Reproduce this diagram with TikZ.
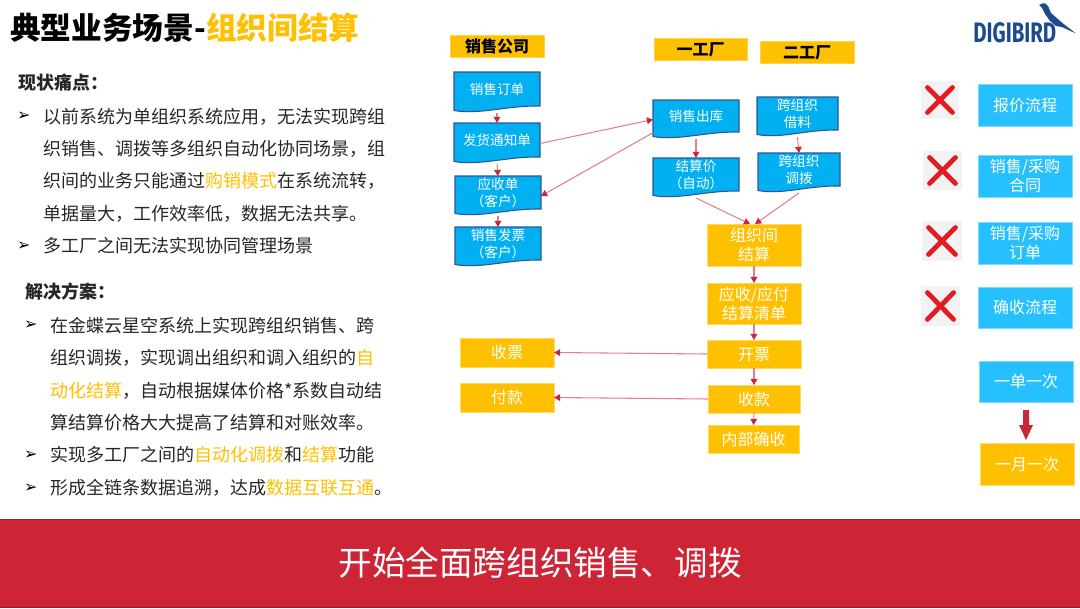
\documentclass[tikz,border=0pt]{standalone}
\usepackage{fontspec}
\setmainfont{Noto Sans CJK SC}
\newfontfamily\logofont{Fira Sans}
\newfontfamily\dingfont{DejaVu Sans}
\usetikzlibrary{arrows.meta}
\definecolor{txt}{HTML}{262626}
\definecolor{gold}{HTML}{FFC000}
\definecolor{docblue}{HTML}{00B0F0}
\definecolor{docline}{HTML}{2F5597}
\definecolor{skyb}{HTML}{27C0FF}
\definecolor{arrowred}{HTML}{C9283C}
\definecolor{arrowline}{HTML}{E57E8A}
\definecolor{band}{HTML}{CD2535}
\definecolor{logoblue}{HTML}{1B4A8E}
\definecolor{xred}{HTML}{E31B23}
\newcommand\ctext[2][-1.8pt]{\raisebox{#1}[\height][\depth]{\begin{tabular}{@{}c@{}}#2\end{tabular}}}
\newcommand\pbox[7]{\node[#1,minimum width={(#5-#3)*.75pt},minimum height={(#6-#4)*.75pt}] (#2) at ({(#3+#5)/2},{(#4+#6)/2}) {#7};}
\newcommand\docnode[6]{%
  \path[docshape] (#2,#3) -- (#4,#3) -- ({#4},{#5-7})
    .. controls ({#2+.6*(#4-#2)},{#5-7.5}) and ({#2+.3*(#4-#2)},{#5+2}) .. (#2,{#5-2.5}) -- cycle;
  \pbox{doctext}{#1}{#2}{#3}{#4}{#5}{\ctext[.8pt]{#6}}}
\newcommand\xmark[5]{%
  \pbox{xbg}{#1}{#2}{#3}{#4}{#5}{}
  \draw[xline] (#1.north west) -- (#1.south east);
  \draw[xline] (#1.north east) -- (#1.south west);}
\newcommand\hl[1]{\textcolor{gold}{#1}}
\tikzset{
  x=.75pt,y=-.75pt,
  boxbase/.style={rectangle,inner sep=0pt,outer sep=0pt,align=center},
  docshape/.style={fill=docblue,draw=docline,line width=.8pt},
  doctext/.style={boxbase,text=white,font=\fontsize{10.2pt}{12.5pt}\selectfont},
  header/.style={boxbase,fill=gold,draw=gold!70!white,line width=.4pt,text=black,font=\fontsize{12pt}{14pt}\selectfont\bfseries},
  ybox/.style={boxbase,fill=gold,draw=gold!60!white,line width=.4pt,text=white,font=\fontsize{12pt}{14pt}\selectfont},
  bbox/.style={boxbase,fill=skyb,draw=skyb!60!white,line width=.4pt,text=white,font=\fontsize{12pt}{14.2pt}\selectfont},
  xbg/.style={boxbase,fill=black!5},
  xline/.style={draw=xred,line width=3.6pt,line cap=round,shorten >=6.9pt,shorten <=6.9pt},
  conn/.style={draw=arrowline,line width=.8pt,-{Triangle[width=5pt,length=4.6pt,fill=arrowred,color=arrowred]}},
  ln/.style={anchor=west,inner sep=0pt,outer sep=0pt,text=txt,font=\fontsize{13.5pt}{16pt}\selectfont,text height=11.9pt,text depth=1.6pt},
  hd/.style={anchor=west,inner sep=0pt,outer sep=0pt,text=txt,font=\fontsize{13.5pt}{16pt}\selectfont\bfseries,text height=11.9pt,text depth=1.6pt},
  bul/.style={anchor=west,inner sep=0pt,outer sep=0pt,text=black,font=\dingfont\fontsize{12pt}{14pt}\selectfont},
}
\begin{document}
\begin{tikzpicture}
\useasboundingbox (0,0) rectangle (1080,608);
% title
\node[anchor=west,inner sep=0pt,text=black,font=\fontsize{23pt}{26pt}\selectfont\bfseries,text height=20.2pt,text depth=2.8pt] (title) at (10,28) {典型业务场景-\hl{组织间结算}};
% left text
\node[hd] (h1) at (18,83) {现状痛点：};
\node[bul] (b1) at (17,116) {➢};
\node[ln] (l1) at (43,117) {以前系统为单组织系统应用，无法实现跨组};
\node[ln] (l2) at (43,149) {织销售、调拨等多组织自动化协同场景，组};
\node[ln] (l3) at (43,181) {织间的业务只能通过\hl{购销模式}在系统流转，};
\node[ln] (l4) at (43,214) {单据量大，工作效率低，数据无法共享。};
\node[bul] (b2) at (17,246) {➢};
\node[ln] (l5) at (43,246) {多工厂之间无法实现协同管理场景};
\node[hd] (h2) at (25,292) {解决方案：};
\node[bul] (b3) at (24,325) {➢};
\node[ln] (l6) at (50,326) {在金蝶云星空系统上实现跨组织销售、跨};
\node[ln] (l7) at (50,358) {组织调拨，实现调出组织和调入组织的\hl{自}};
\node[ln] (l8) at (50,391) {\hl{动化结算}，自动根据媒体价格*系数自动结};
\node[ln] (l9) at (50,423) {算结算价格大大提高了结算和对账效率。};
\node[bul] (b4) at (24,455) {➢};
\node[ln] (l10) at (50,455) {实现多工厂之间的\hl{自动化调拨}和\hl{结算}功能};
\node[bul] (b5) at (24,488) {➢};
\node[ln] (l11) at (50,488) {形成全链条数据追溯，达成\hl{数据互联互通}。};
% headers
\pbox{header}{hsale}{450}{35}{544}{57}{\ctext{销售公司}}
\pbox{header}{hf1}{654}{38}{747}{60}{\ctext{一工厂}}
\pbox{header}{hf2}{760}{41}{854}{63}{\ctext{二工厂}}
% documents
\docnode{so}{454}{72}{540}{113}{销售订单}
\docnode{dn}{454}{123}{540}{164}{发货通知单}
\docnode{ar}{455}{176}{541}{216}{应收单\\（客户）}
\docnode{inv}{455}{227}{541}{267}{销售发票\\（客户）}
\docnode{out}{653}{100}{739}{139}{销售出库}
\docnode{price}{653}{158}{739}{198}{结算价\\（自动）}
\docnode{borrow}{757}{97}{838}{137}{跨组织\\借料}
\docnode{trans}{758}{153}{840}{193}{跨组织\\调拨}
% gold flow
\pbox{ybox}{settle}{707}{224}{801}{266}{\ctext{组织间\\结算}}
\pbox{ybox}{list}{707}{283}{801}{324}{\ctext{应收/应付\\结算清单}}
\pbox{ybox}{kp}{707}{340}{801}{368}{\ctext{开票}}
\pbox{ybox}{sk}{708}{385}{800}{413}{\ctext{收款}}
\pbox{ybox}{nb}{708}{425}{799}{453}{\ctext{内部确收}}
\pbox{ybox}{sp}{460}{338}{554}{367}{\ctext{收票}}
\pbox{ybox}{fk}{460}{383}{554}{412}{\ctext{付款}}
% connectors
\draw[conn] (so.south) -- (dn.north);
\draw[conn] (dn.south) -- (ar.north);
\draw[conn] (ar.south) -- (inv.north);
\draw[conn] (dn.east) -- (out.west);
\draw[conn] (out.197) -- (ar.east);
\draw[conn] (out.south) -- (price.north);
\draw[conn] (borrow.south) -- (trans.north);
\draw[conn] (price.south) -- ([xshift=-3pt]settle.north);
\draw[conn] (trans.south) -- ([xshift=.8pt]settle.north);
\draw[conn] (settle.south) -- (list.north);
\draw[conn] (list.south) -- (kp.north);
\draw[conn] (kp.south) -- (sk.north);
\draw[conn] (sk.south) -- (nb.north);
\draw[conn] (kp.west) -- (sp.east);
\draw[conn] (sk.west) -- (fk.east);
% right column
\xmark{x1}{921}{81}{959}{119}
\xmark{x2}{923}{151}{962}{190}
\xmark{x3}{922}{221}{962}{261}
\xmark{x4}{921}{286}{960}{326}
\pbox{bbox}{r1}{978}{84}{1072}{126}{\ctext{报价流程}}
\pbox{bbox}{r2}{978}{155}{1072}{197}{\ctext{销售/采购\\合同}}
\pbox{bbox}{r3}{978}{222}{1072}{264}{\ctext{销售/采购\\订单}}
\pbox{bbox}{r4}{978}{287}{1072}{328}{\ctext{确收流程}}
\pbox{bbox}{r5}{979}{361}{1073}{402}{\ctext{一单一次}}
\pbox{ybox}{r6}{980}{443}{1074}{485}{\ctext{一月一次}}
\draw[draw=none,fill=arrowred] (1023,410) -- (1029,410) -- (1029,425) -- (1033,425) -- (1026,440) -- (1019,425) -- (1023,425) -- cycle;
% logo
\node[anchor=west,inner sep=0pt,text=logoblue] (logo) at (973,33) {\resizebox{62.25pt}{15pt}{\logofont\bfseries DIGIBIRD}};
\fill[logoblue] (1039,5) -- (1042,3.5) -- (1045,3.3) -- (1048,6) -- (1051,13) -- (1063,23.5) -- (1076,33.5) -- (1062,27) -- (1056,26) -- (1050,21) -- (1045,14) -- (1042,8) -- cycle;
% band
\path[fill=band,draw=band!75!black,line width=.5pt] (-2,519) rectangle (1082,607.5);
\node[inner sep=0pt,text=white,font=\fontsize{25.2pt}{30pt}\selectfont,text height=22.2pt,text depth=3pt] (bandtext) at (540,563) {开始全面跨组织销售、调拨};
\end{tikzpicture}
\end{document}
